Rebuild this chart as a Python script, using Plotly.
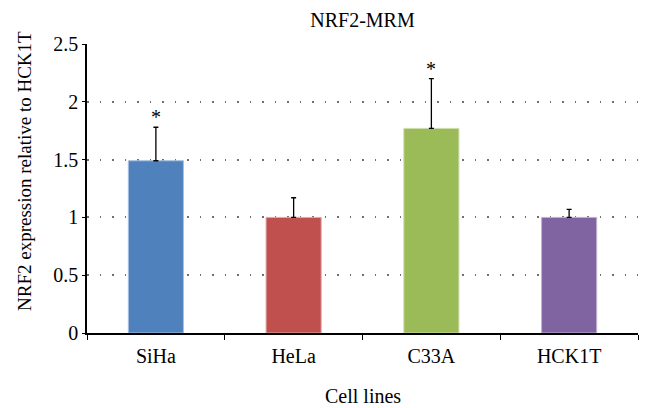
import plotly.graph_objects as go

categories = ["SiHa", "HeLa", "C33A", "HCK1T"]
values = [1.49, 1.0, 1.77, 1.0]
errors = [0.29, 0.17, 0.43, 0.07]
significance = ["*", "", "*", ""]
colors = ["#4F81BD", "#C0504D", "#9BBB59", "#8064A2"]
edge_colors = ["#A7C0DE", "#E0A8A6", "#CDDDAC", "#BFB1D0"]

title_text = "NRF2-MRM"
x_title = "Cell lines"
y_title = "NRF2 expression relative to HCK1T"

font_family = "Liberation Serif, Times New Roman, serif"
tick_font = dict(family=font_family, size=20, color="black")

fig = go.Figure()
fig.add_trace(go.Bar(
    x=categories,
    y=values,
    marker=dict(color=colors, line=dict(color=edge_colors, width=1)),
    width=0.4,
    error_y=dict(type="data", array=errors, arrayminus=[0] * len(errors),
                 symmetric=False, color="black", thickness=1.3, width=2.5),
    showlegend=False,
    hoverinfo="skip",
))

for cat, v, e, s in zip(categories, values, errors, significance):
    if s:
        fig.add_annotation(x=cat, y=v + e, text=s, showarrow=False,
                           yanchor="bottom", yshift=-3,
                           font=dict(family=font_family, size=20, color="black"))

# axis titles as annotations for exact placement
fig.add_annotation(text=y_title, textangle=-90, showarrow=False,
                   xref="paper", yref="paper", x=(24 - 87) / 551, y=(333 - 171) / 289,
                   xanchor="center", yanchor="middle",
                   font=dict(family=font_family, size=19, color="black"))
fig.add_annotation(text=x_title, showarrow=False,
                   xref="paper", yref="paper", x=0.5, y=-(396 - 333) / 289,
                   xanchor="center", yanchor="middle",
                   font=dict(family=font_family, size=20, color="black"))

fig.update_layout(
    width=648, height=408,
    margin=dict(l=87, r=10, t=44, b=75, autoexpand=False),
    paper_bgcolor="white", plot_bgcolor="white",
    font=dict(family=font_family, size=20, color="black"),
    title=dict(text=title_text, x=0.5, xanchor="center", xref="paper",
               y=1 - 20 / 408, yref="container", yanchor="middle",
               font=dict(family=font_family, size=20)),
    bargap=0.6,
)
fig.update_xaxes(
    tickfont=tick_font, automargin=False,
    showline=True, linecolor="black", linewidth=1.5,
    ticks="outside", tickson="boundaries", ticklen=5, tickcolor="black",
    ticklabelstandoff=4,
    showgrid=False,
)
fig.update_yaxes(
    tickfont=tick_font, automargin=False,
    range=[0, 2.5], dtick=0.5, tickformat="~g",
    showline=True, linecolor="black", linewidth=1.5,
    ticks="outside", ticklen=3, tickcolor="black",
    showgrid=True, gridcolor="#707070", gridwidth=1.5, griddash="1.5px,11px",
    zeroline=False,
)

fig.write_html("out.html", config={"displayModeBar": False},
               post_script="document.body.style.margin='0';")
